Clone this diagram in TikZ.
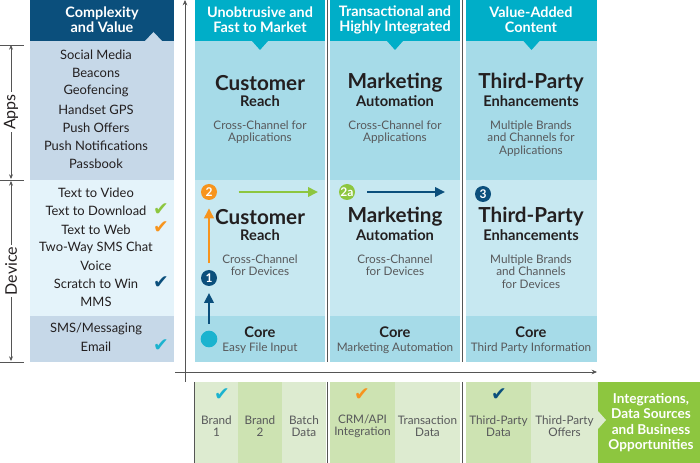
\documentclass[tikz,border=0pt]{standalone}
\usepackage{fontspec}
\setmainfont{Lato}
\newfontfamily\symfont{DejaVu Sans}
\usepackage{tikz}
\usetikzlibrary{positioning, arrows.meta, calc}
\definecolor{navyblue}{HTML}{0B4F7C}
\definecolor{hdrteal}{HTML}{00AEC8}
\definecolor{appcell}{HTML}{A6DBE8}
\definecolor{devcell}{HTML}{C7E8F1}
\definecolor{leftapp}{HTML}{C6D8E8}
\definecolor{leftdev}{HTML}{E4F3FA}
\definecolor{brightgreen}{HTML}{8DC63F}
\definecolor{orangemark}{HTML}{F7941D}
\definecolor{tealmark}{HTML}{1BB3CF}
\definecolor{palegreen}{HTML}{DDEBD0}
\definecolor{midgreen}{HTML}{CDE3B2}
\definecolor{inktext}{HTML}{231F20}
\definecolor{greytext}{HTML}{58595B}
\definecolor{ruleline}{HTML}{555555}

\begin{document}
\begin{tikzpicture}[x=0.75pt, y=-0.75pt,
    hdr/.style={font=\bfseries\fontsize{10.8}{11.3}\selectfont, text=white, align=center, inner sep=0pt},
    bigtitle/.style={font=\bfseries\fontsize{15.5}{16}\selectfont, text=inktext, inner sep=0pt},
    midtitle/.style={font=\bfseries\fontsize{11}{12}\selectfont, text=inktext, inner sep=0pt},
    desc/.style={font=\fontsize{8.8}{9.3}\selectfont, text=greytext, align=center, inner sep=0pt},
    item/.style={font=\fontsize{9.7}{11}\selectfont, text=inktext, inner sep=0pt},
    botlabel/.style={font=\fontsize{8.8}{9}\selectfont, text=greytext, align=center, inner sep=0pt},
    checkmark/.style={font=\symfont\fontsize{14}{14}\selectfont, inner sep=0pt},
    stepnum/.style={circle, minimum size=12pt, inner sep=0pt, text=white, font=\bfseries\fontsize{9}{9}\selectfont},
    fatarrow/.style={line width=2.2pt, -{Triangle[length=7.5pt,width=7pt]}},
    axisline/.style={draw=ruleline, line width=0.6pt},
  ]
  \useasboundingbox (0,0) rectangle (700,463);

  % left column: complexity and value
  \fill[navyblue] (30,0) rectangle (174,41);
  \fill[leftapp] (30,41) rectangle (174,180);
  \fill[leftdev] (30,180) rectangle (174,316);
  \fill[leftapp] (30,316) rectangle (174,362);
  \fill[leftapp] (145,41) -- (153.5,32) -- (162,41) -- cycle;
  \node[hdr] (cvhead) at (102,20) {Complexity\\and Value};

  \foreach \txt [count=\i from 0] in {Social Media, Beacons, Geofencing, Handset GPS,
      Push Offers, Push Notifications, Passbook}
    \node[item] (app\i) at (96,55+18.2*\i) {\txt};
  \foreach \txt [count=\i from 0] in {Text to Video, Text to Download, Text to Web,
      Two-Way SMS Chat, Voice, Scratch to Win, MMS}
    \node[item] (dev\i) at (96,193+18.17*\i) {\txt};
  \node[item] (sms) at (96,329) {SMS/Messaging};
  \node[item] (email) at (96,347) {Email};

  \node[checkmark, text=brightgreen] (chkdl) at (161,210) {✔};
  \node[checkmark, text=orangemark] (chkweb) at (161,228) {✔};
  \node[checkmark, text=navyblue] (chkscr) at (161,283) {✔};
  \node[checkmark, text=tealmark] (chkmail) at (161,346) {✔};

  % apps / device ranges
  \draw[axisline] (0,45) -- (24,45) (0,180) -- (24,180) (0,362) -- (24,362);
  \coordinate (appstop) at (11,45);
  \coordinate (appsbot) at (11,179);
  \coordinate (devtop) at (11,181);
  \coordinate (devbot) at (11,361);
  \draw[axisline, {Stealth[length=3.5pt,width=3pt]}-{Stealth[length=3.5pt,width=3pt]}] (appstop) -- (appsbot);
  \draw[axisline, {Stealth[length=3.5pt,width=3pt]}-{Stealth[length=3.5pt,width=3pt]}] (devtop) -- (devbot);
  \node[fill=white, rotate=90, inner sep=1.5pt, font=\fontsize{12}{12}\selectfont, text=inktext] (appslbl) at (11,112) {Apps};
  \node[fill=white, rotate=90, inner sep=1.5pt, font=\fontsize{12}{12}\selectfont, text=inktext] (devlbl) at (11,271) {Device};

  % three columns
  \foreach \xa/\xb in {195/325, 330/460, 466/597} {
    \fill[hdrteal] (\xa,0) rectangle (\xb,41);
    \fill[appcell] (\xa,41) rectangle (\xb,180);
    \fill[devcell] (\xa,180) rectangle (\xb,316);
    \fill[appcell] (\xa,316) rectangle (\xb,362);
    \fill[hdrteal] ({(\xa+\xb)/2-8},41) -- ({(\xa+\xb)/2},50) -- ({(\xa+\xb)/2+8},41) -- cycle;
  }
  \draw[ruleline, line width=0.8pt] (327.5,0) -- (327.5,362) (462.5,0) -- (462.5,362);

  \node[hdr] (head1) at (260,19.5) {Unobtrusive and\\Fast to Market};
  \node[hdr] (head2) at (395,19.5) {Transactional and\\Highly Integrated};
  \node[hdr] (head3) at (531,19.5) {Value-Added\\Content};

  \node[bigtitle] (appcust) at (260,83) {Customer};
  \node[midtitle] (appreach) at (260,101) {Reach};
  \node[desc] (appdesc1) at (260,132) {Cross-Channel for\\Applications};
  \node[bigtitle] (appmkt) at (395,83) {Marketing};
  \node[midtitle] (appauto) at (395,101) {Automation};
  \node[desc] (appdesc2) at (395,132) {Cross-Channel for\\Applications};
  \node[bigtitle] (apptp) at (531,83) {Third-Party};
  \node[midtitle] (appenh) at (531,101) {Enhancements};
  \node[desc] (appdesc3) at (531,138.5) {Multiple Brands\\and Channels for\\Applications};

  \node[bigtitle] (devcust) at (260,217) {Customer};
  \node[midtitle] (devreach) at (260,235) {Reach};
  \node[desc] (devdesc1) at (260,265.5) {Cross-Channel\\for Devices};
  \node[bigtitle] (devmkt) at (395,217) {Marketing};
  \node[midtitle] (devauto) at (395,235) {Automation};
  \node[desc] (devdesc2) at (395,265.5) {Cross-Channel\\for Devices};
  \node[bigtitle] (devtp) at (531,217) {Third-Party};
  \node[midtitle] (devenh) at (531,235) {Enhancements};
  \node[desc] (devdesc3) at (531,271.5) {Multiple Brands\\and Channels\\for Devices};

  \node[midtitle] (core1) at (260,332) {Core};
  \node[desc] (coredesc1) at (260,348) {Easy File Input};
  \node[midtitle] (core2) at (395,332) {Core};
  \node[desc] (coredesc2) at (395,348) {Marketing Automation};
  \node[midtitle] (core3) at (531,332) {Core};
  \node[desc] (coredesc3) at (531,348) {Third Party Information};

  % steps
  \node[circle, fill=tealmark, minimum size=12.5pt, inner sep=0pt] (start) at (209,339) {};
  \node[stepnum, fill=navyblue] (one) at (209,278) {1};
  \node[stepnum, fill=orangemark] (two) at (209,192) {2};
  \node[stepnum, fill=brightgreen] (twoa) at (347,192) {2a};
  \node[stepnum, fill=navyblue] (three) at (483,194) {3};
  \coordinate (greenend) at (318,192);
  \coordinate (navyend) at (445,192);

  \draw[fatarrow, navyblue, shorten <=5pt, shorten >=5pt] (start) -- (one);
  \draw[fatarrow, orangemark, shorten <=5pt, shorten >=6pt] (one) -- (two);
  \draw[fatarrow, brightgreen, shorten <=16pt] (two) -- (greenend);
  \draw[fatarrow, navyblue, shorten <=9pt] (twoa) -- (navyend);

  % axes
  \coordinate (yaxbot) at (185,382);
  \coordinate (yaxtop) at (185,0);
  \coordinate (xaxleft) at (175,372);
  \coordinate (xaxright) at (597,372);
  \draw[axisline, -{Stealth[length=4pt,width=3.5pt]}] (yaxbot) -- (yaxtop);
  \draw[axisline, -{Stealth[length=4pt,width=3.5pt]}] (xaxleft) -- (xaxright);

  % bottom row: integrations
  \fill[palegreen] (195,382) rectangle (238,463);
  \fill[midgreen] (238,382) rectangle (282,463);
  \fill[palegreen] (282,382) rectangle (326,463);
  \fill[midgreen] (330,382) rectangle (395,463);
  \fill[palegreen] (395,382) rectangle (460,463);
  \fill[midgreen] (466,382) rectangle (531,463);
  \fill[palegreen] (531,382) rectangle (598,463);
  \fill[brightgreen] (598,382) rectangle (700,463);
  \fill[palegreen] (598,411) -- (606,420) -- (598,429) -- cycle;
  \draw[ruleline, line width=0.8pt] (194.5,382) -- (194.5,463) (327.5,382) -- (327.5,463) (462.5,382) -- (462.5,463);

  \node[checkmark, text=tealmark] (chkbrand) at (222,395) {✔};
  \node[checkmark, text=orangemark] (chkcrm) at (362,395) {✔};
  \node[checkmark, text=navyblue] (chktp) at (499,395) {✔};

  \node[botlabel] (brand1) at (216.5,426) {Brand\\1};
  \node[botlabel] (brand2) at (260,426) {Brand\\2};
  \node[botlabel] (batch) at (304,426) {Batch\\Data};
  \node[botlabel] (crm) at (362.5,426) {CRM/API\\Integration};
  \node[botlabel] (trans) at (427.5,426) {Transaction\\Data};
  \node[botlabel] (tpdata) at (498.5,426) {Third-Party\\Data};
  \node[botlabel] (tpoffers) at (564.5,426) {Third-Party\\Offers};
  \node[font=\bfseries\fontsize{10.2}{11.6}\selectfont, text=white, align=center, inner sep=0pt] (opps) at (651,422.5) {Integrations,\\Data Sources\\and Business\\Opportunities};
\end{tikzpicture}
\end{document}
